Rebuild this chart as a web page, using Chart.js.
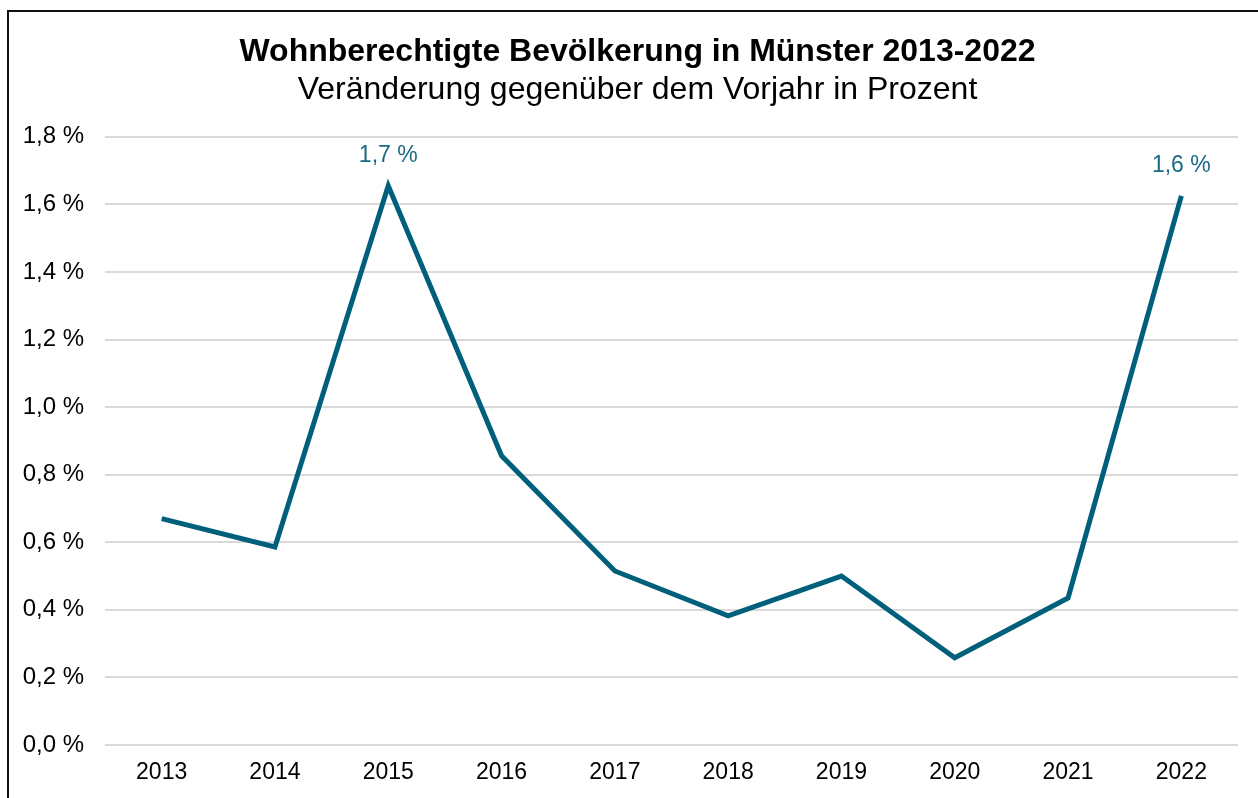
<!DOCTYPE html>
<html>
<head>
<meta charset="utf-8">
<script src="https://cdn.jsdelivr.net/npm/chart.js@4/dist/chart.umd.min.js"></script>
<style>
  html, body { margin: 0; padding: 0; background: #fff; }
  #wrap { width: 1258px; height: 798px; position: relative; }
</style>
</head>
<body>
<div id="wrap"><canvas id="chart" width="1258" height="798"></canvas></div>
<script>
// data
var years = ['2013', '2014', '2015', '2016', '2017', '2018', '2019', '2020', '2021', '2022'];
var changePct = [0.67, 0.586, 1.655, 0.856, 0.515, 0.382, 0.50, 0.258, 0.435, 1.625];
var labelledYears = ['2015', '2022'];
var yTicks = [0, 0.2, 0.4, 0.6, 0.8, 1.0, 1.2, 1.4, 1.6, 1.8];

var lineColor = '#005f7a';
var fontName = '"Liberation Sans", Arial, sans-serif';

var fmtPct = function (v) {
	return v.toFixed(1).replace('.', ',') + ' %';
};

// frame round the chart (left + top edge visible)
var framePlugin = {
	id: 'frame',
	beforeDraw: function (chart) {
		var ctx = chart.ctx;
		ctx.save();
		ctx.fillStyle = '#fff';
		ctx.fillRect(0, 0, chart.width, chart.height);
		ctx.strokeStyle = '#111';
		ctx.lineWidth = 2;
		ctx.strokeRect(8, 11, 1262, 800);
		ctx.restore();
	}
};

// value labels above selected points
var valueLabels = {
	id: 'valueLabels',
	afterDatasetsDraw: function (chart) {
		var ctx = chart.ctx;
		var meta = chart.getDatasetMeta(0);
		ctx.save();
		ctx.font = '23px ' + fontName;
		ctx.fillStyle = '#1a6a86';
		ctx.textAlign = 'center';
		ctx.textBaseline = 'middle';
		for (var i = 0; i < years.length; i++) {
			if (labelledYears.indexOf(years[i]) < 0) continue;
			var pt = meta.data[i];
			ctx.fillText(fmtPct(changePct[i]), pt.x, pt.y - 30);
		}
		ctx.restore();
	}
};

new Chart(document.getElementById('chart'), {
	type: 'line',
	data: {
		labels: years,
		datasets: [{
			data: changePct,
			borderColor: lineColor,
			borderWidth: 5,
			borderJoinStyle: 'miter',
			tension: 0,
			pointRadius: 0,
			fill: false
		}]
	},
	options: {
		responsive: false,
		animation: false,
		layout: { padding: { left: 17, right: 0, top: 0, bottom: 0 } },
		plugins: {
			legend: { display: false },
			tooltip: { enabled: false },
			title: {
				display: true,
				text: 'Wohnberechtigte Bevölkerung in Münster 2013-2022',
				color: '#000',
				font: { family: fontName, size: 32, weight: 'bold' },
				padding: { top: 33, bottom: 0 }
			},
			subtitle: {
				display: true,
				text: 'Veränderung gegenüber dem Vorjahr in Prozent',
				color: '#000',
				font: { family: fontName, size: 32 },
				padding: { top: 0, bottom: 27 }
			}
		},
		scales: {
			x: {
				offset: true,
				grid: { display: false, drawTicks: false },
				border: { display: false },
				ticks: {
					color: '#000',
					font: { family: fontName, size: 23 },
					padding: 14,
					maxRotation: 0
				},
				afterFit: function (scale) { scale.height = 53; }
			},
			y: {
				min: 0,
				max: 1.8,
				afterBuildTicks: function (scale) {
					scale.ticks = yTicks.map(function (v) { return { value: v }; });
				},
				grid: { color: '#d9d9d9', lineWidth: 2, drawTicks: false },
				border: { display: false },
				ticks: {
					color: '#000',
					font: { family: fontName, size: 24 },
					padding: 21,
					callback: function (v) { return fmtPct(v); }
				},
				afterFit: function (scale) { scale.width = 88; }
			},
			// empty axis that only keeps the right margin
			yRight: {
				position: 'right',
				min: 0,
				max: 1.8,
				grid: { display: false, drawTicks: false },
				border: { display: false },
				ticks: { display: false },
				afterFit: function (scale) { scale.width = 20; }
			}
		}
	},
	plugins: [framePlugin, valueLabels]
});
</script>
</body>
</html>
